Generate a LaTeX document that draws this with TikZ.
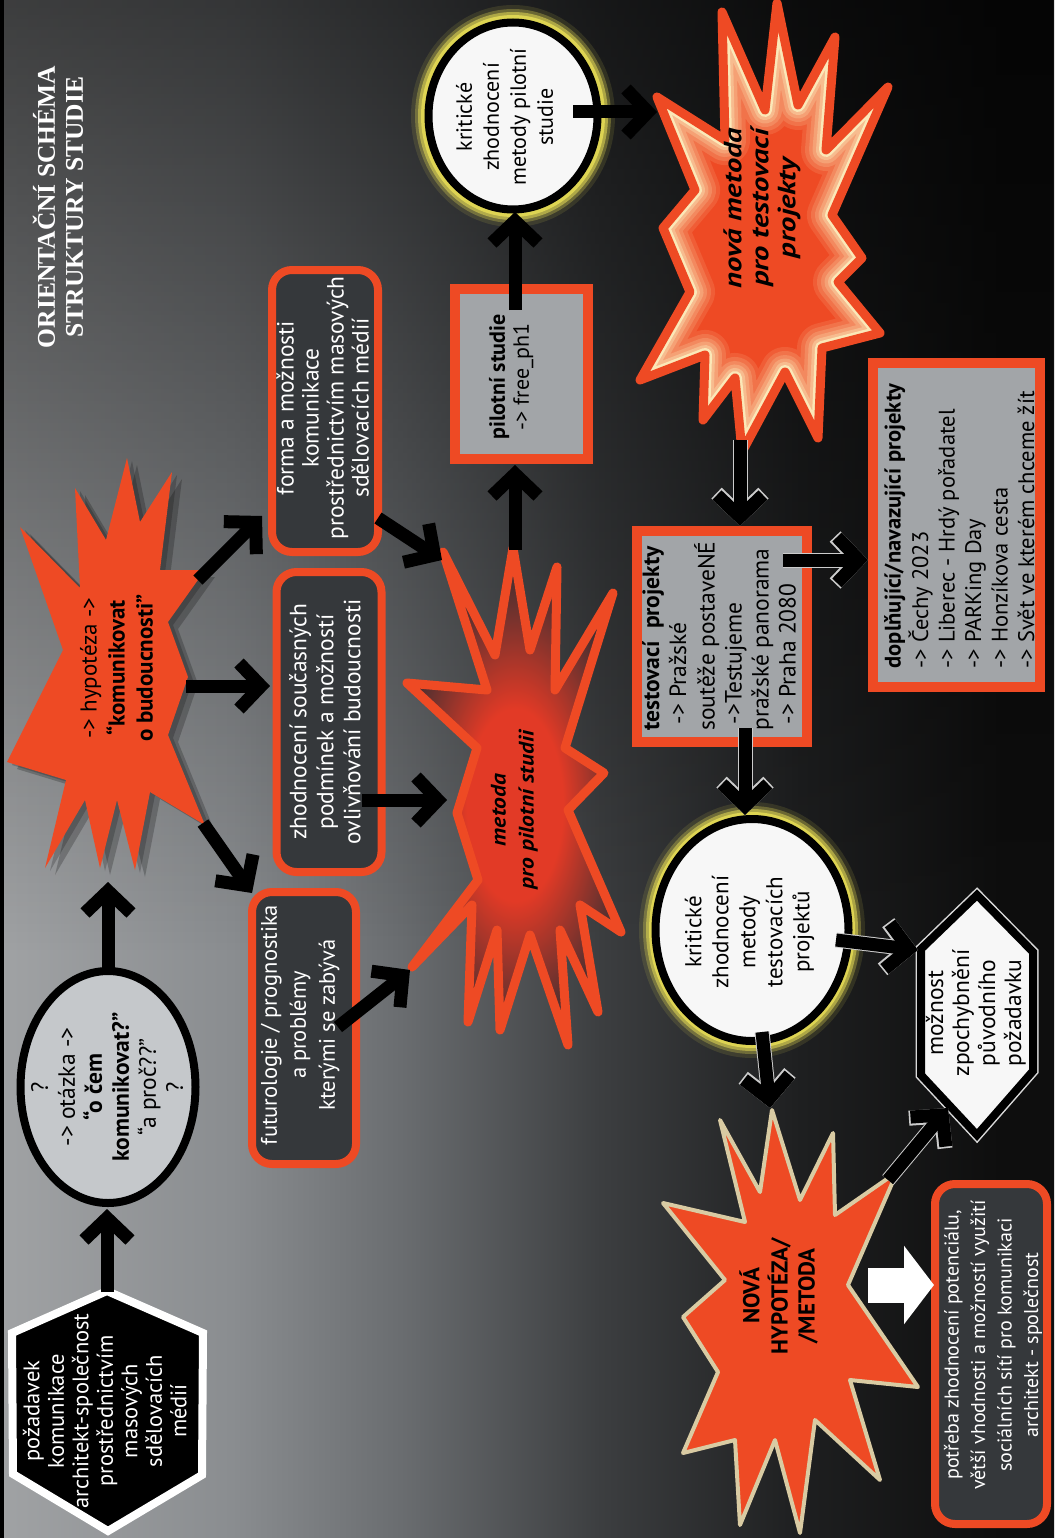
\documentclass[tikz,border=0pt]{standalone}
\usepackage{fontspec}
\setmainfont{PT Sans}
\newfontfamily\titlefont{Liberation Serif}
\usepackage{graphicx}
\usetikzlibrary{arrows.meta,shapes.geometric,fadings}
\definecolor{org}{HTML}{EE4A24}
\definecolor{boxd}{HTML}{35383B}
\definecolor{rgray}{HTML}{A2A5A8}
\definecolor{ellf}{HTML}{C5C8CB}
\definecolor{cream}{HTML}{FBE8B8}
\definecolor{mtdark}{HTML}{3A2E31}
\definecolor{mtred}{HTML}{E23A26}
\definecolor{glowy}{HTML}{E6DC55}
\definecolor{beige}{HTML}{D9CBA3}
\definecolor{bgA}{HTML}{A0A2A4}
\definecolor{bgB}{HTML}{8A8D90}
\definecolor{bgC}{HTML}{6A6D70}
\definecolor{bgD}{HTML}{3C3E40}
\definecolor{bgE}{HTML}{1E1F20}
\definecolor{bgF}{HTML}{0E0E0E}
\pgfdeclarehorizontalshading{bgsh}{100bp}{color(0bp)=(bgA); color(25bp)=(bgA); color(36bp)=(bgB); color(44bp)=(bgC); color(53.5bp)=(bgD); color(63bp)=(bgE); color(72.5bp)=(bgF); color(100bp)=(bgF)}
\pgfdeclareradialshading{glowsh}{\pgfpointorigin}{color(0bp)=(mtred); color(10bp)=(mtred); color(25bp)=(mtdark); color(50bp)=(mtdark)}
\newcommand\rtx[2][c]{\rotatebox{90}{\begin{tabular}{@{}#1@{}}#2\end{tabular}}}
\newcommand\rtxs[2]{\rotatebox{90}{\scalebox{#1}[1]{\begin{tabular}{@{}c@{}}#2\end{tabular}}}}
\def\hexA{(107,1291) -- (203,1333) -- (202,1475) -- (108,1531) -- (13,1474) -- (12,1333) -- cycle}
\def\hexB{(977,895) -- (1033,952) -- (1033,1071) -- (977,1135) -- (921,1075) -- (921,949) -- cycle}
\def\hypstar{(20,527) -- (80,588) -- (75,488) -- (106,540) -- (127,458) -- (140,522) -- (172,472) -- (160,570) -- (205,570) -- (168,622) -- (188,677) -- (168,735) -- (205,825) -- (150,792) -- (135,870) -- (117,800) -- (100,868) -- (85,800) -- (45,868) -- (66,780) -- (7,762) -- (63,650) -- cycle}
\def\metstar{(407,683) -- (487,690) -- (443,552) -- (495,655) -- (513,548) -- (530,650) -- (557,567) -- (555,690) -- (613,593) -- (565,748) -- (604,773) -- (568,810) -- (621,932) -- (580,905) -- (598,1012) -- (560,930) -- (568,1045) -- (530,935) -- (500,1030) -- (497,930) -- (468,1022) -- (472,905) -- (412,967) -- (478,880) -- (457,813) -- (477,748) -- cycle}
\def\nmstar{(777,3) -- (798,105) -- (835,37) -- (826,150) -- (888,87) -- (832,215) -- (862,258) -- (838,282) -- (880,333) -- (822,348) -- (818,438) -- (785,372) -- (742,452) -- (735,378) -- (703,420) -- (705,355) -- (640,380) -- (690,292) -- (663,228) -- (695,190) -- (657,97) -- (725,140) -- (722,12) -- (765,110) -- cycle}
\def\nhstar{(772,1110) -- (800,1200) -- (833,1133) -- (835,1215) -- (897,1172) -- (848,1285) -- (918,1387) -- (850,1380) -- (880,1480) -- (815,1420) -- (800,1533) -- (775,1440) -- (740,1525) -- (735,1440) -- (683,1453) -- (718,1372) -- (683,1317) -- (725,1280) -- (663,1203) -- (745,1222) -- (720,1120) -- (760,1192) -- cycle}
\begin{document}
\begin{tikzpicture}[x=1pt,y=-1pt,
  every node/.style={inner sep=0pt},
  rbox/.style={rectangle, rounded corners=20pt, draw=org, line width=8pt, fill=boxd},
  gbox/.style={rectangle, draw=org, line width=10pt, fill=rgray},
  wtxt/.style={text=white},
  arr/.style={draw=black, line width=13pt, -{Straight Barb[length=22pt,width=46pt,line width=13pt]}},
  arrw/.style={arr, preaction={draw=white!80!black, line width=15pt, -{Straight Barb[length=22.5pt,width=47pt,line width=15pt]}}}]
\useasboundingbox (0,0) rectangle (1054,1538);
% background
\shade[shading=bgsh, shading angle=0] (0,0) rectangle (1054,1538);
\fill[black, opacity=0.62, path fading=south] (0,0) rectangle (1054,950);
\fill[black] (0,0) rectangle (4,1538);

% title
\node[text=white, font=\titlefont\bfseries\fontsize{25.5}{28}\selectfont] (title) at (62,207) {\rtx{ORIENTAČNÍ SCHÉMA\\STRUKTURY STUDIE}};

% hexagon 1
\fill[black] \hexA;
\draw[white, line width=8pt] \hexA;
\node[wtxt, font=\fontsize{22.5}{24.5}\selectfont] (hex1) at (108,1411) {\rtx{požadavek\\komunikace\\architekt-společnost\\prostřednictvím\\masových\\sdělovacích\\médií}};

% ellipse question
\node[ellipse, draw=black, line width=8pt, fill=ellf, minimum width=175pt, minimum height=232pt] (q) at (108,1087) {};
\node[font=\fontsize{23.5}{27}\selectfont] (qt) at (110,1087) {\rtx{?\\-> otázka ->\\\textbf{“o čem}\\\textbf{komunikovat?”}\\“a proč??”\\?}};

% hypothesis star
\fill[black, opacity=0.22, shift={(10,7)}] \hypstar;
\fill[black, opacity=0.2, shift={(5,3)}] \hypstar;
\fill[org] \hypstar;
\node[font=\fontsize{23}{28}\selectfont] (hyp) at (119,668) {\rtx{-> hypotéza ->\\\textbf{“komunikovat}\\\textbf{o budoucnosti”}}};

% three rounded boxes
\node[rbox, minimum width=106pt, minimum height=282pt] (fm) at (325,411) {};
\node[wtxt, font=\fontsize{23.5}{25}\selectfont] (fmt) at (326,408) {\rtx{forma a možnosti\\komunikace\\prostřednictvím masových\\sdělovacích médií}};
\node[rbox, minimum width=105pt, minimum height=300pt] (zh) at (329,722) {};
\node[wtxt, font=\fontsize{23.5}{27}\selectfont] (zht) at (328,722) {\rtx{zhodnocení současných\\podmínek a možností\\ovlivňování budoucnosti}};
\node[rbox, minimum width=104pt, minimum height=272pt] (fu) at (304,1028) {};
\node[wtxt, font=\fontsize{22.5}{29}\selectfont] (fut) at (300,1025) {\rtx{futurologie / prognostika\\a problémy\\kterými se zabývá}};

% metoda star
\begin{scope}
  \clip \metstar;
  \fill[mtdark] \metstar;
  \shade[shading=glowsh] (515,805) ellipse (120 and 240);
\end{scope}
\draw[org, line width=9pt, line join=round] \metstar;
\node[font=\bfseries\itshape\fontsize{21}{28}\selectfont] (met) at (514,810) {\rtxs{1.12}{metoda\\pro pilotní studii}};

% pilot study
\node[gbox, minimum width=133pt, minimum height=170pt] (pil) at (521,374) {};
\node[font=\fontsize{22}{24}\selectfont] (pilt) at (512,377) {\rtx{\textbf{pilotní studie}\\-> free\_ph1}};

% circle 1
\foreach \r/\o in {13/0.12, 9/0.3, 6/0.55, 3/0.85}{
  \fill[glowy, opacity=\o] (513,116) ellipse ({89+\r} and {98+\r});
}
\node[ellipse, draw=black, line width=8pt, fill=white!97!black, minimum width=169pt, minimum height=187pt] (c1) at (513,116) {};
\node[font=\fontsize{22}{27}\selectfont] (c1t) at (507,117) {\rtx{kritické\\zhodnocení\\metody pilotní\\studie}};

% nova metoda star
\begin{scope}
  \clip \nmstar;
  \fill[org] \nmstar;
  \draw[line width=50pt, color=org!88!cream, line join=round] \nmstar;
  \draw[line width=42pt, color=org!74!cream, line join=round] \nmstar;
  \draw[line width=34pt, color=org!60!cream, line join=round] \nmstar;
  \draw[line width=27pt, color=org!45!cream, line join=round] \nmstar;
  \draw[line width=20pt, color=org!28!cream, line join=round] \nmstar;
  \draw[line width=14pt, color=cream, line join=round] \nmstar;
\end{scope}
\draw[org, line width=9pt, line join=round] \nmstar;
\node[font=\bfseries\itshape\fontsize{25}{27}\selectfont] (nmt) at (763,208) {\rtxs{1.22}{nová metoda\\pro testovací\\projekty}};

% testovaci projekty
\node[gbox, minimum width=170pt, minimum height=211pt] (tp) at (722,636) {};
\node[font=\fontsize{23.5}{27}\selectfont] (tpt) at (722,636) {\rtx[l]{\textbf{testovací\ \ projekty}\\\ -> Pražské\\soutěže postaveNÉ\\\ ->Testujeme\\pražské panorama\\\ -> Praha 2080}};

% doplnujici
\node[gbox, minimum width=167pt, minimum height=324pt] (dp) at (956,525) {};
\node[font=\fontsize{22.5}{26.5}\selectfont] (dpt) at (962,526) {\rtx[l]{\textbf{doplňující/navazující projekty}\\-> Čechy 2023\\-> Liberec - Hrdý pořadatel\\-> PARKing Day\\-> Honzíkova cesta\\-> Svět ve kterém chceme žít}};

% circle 2
\foreach \r/\o in {13/0.12, 9/0.3, 6/0.55, 3/0.85}{
  \fill[glowy, opacity=\o] (752,930) ellipse ({100+\r} and {115+\r});
}
\node[ellipse, draw=black, line width=8pt, fill=white!97!black, minimum width=193pt, minimum height=222pt] (c2) at (752,930) {};
\node[font=\fontsize{23}{27}\selectfont] (c2t) at (750,932) {\rtx{kritické\\zhodnocení\\metody\\testovacích\\projektů}};

% hexagon 2
\draw[white!85!black, line width=11pt] \hexB;
\fill[white!97!black] \hexB;
\draw[black, line width=8pt] \hexB;
\node[font=\fontsize{23.5}{26}\selectfont] (hx2) at (977,1013) {\rtx{možnost\\zpochybnění\\původního\\požadavku}};

% nova hypoteza star
\fill[org] \nhstar;
\draw[beige, line width=4pt, line join=round] \nhstar;
\node[font=\bfseries\fontsize{23}{27}\selectfont] (nh) at (781,1296) {\rtx{NOVÁ\\HYPOTÉZA/\\/METODA}};

% potreba box
\node[rbox, minimum width=112pt, minimum height=340pt] (pb) at (991,1354) {};
\node[wtxt, font=\fontsize{20}{26.5}\selectfont] (pbt) at (993,1345) {\rtx{potřeba zhodnocení potenciálu,\\větší vhodnosti a možností využití\\sociálních sítí pro komunikaci\\architekt - společnost}};

% arrow coordinates
\coordinate (a1s) at (107,1292); \coordinate (a1e) at (107,1209);
\coordinate (a2s) at (108,968);  \coordinate (a2e) at (108,882);
\coordinate (a3s) at (198,580);  \coordinate (a3e) at (262,516);
\coordinate (a4s) at (186,686);  \coordinate (a4e) at (270,686);
\coordinate (a5s) at (203,823);  \coordinate (a5e) at (252,893);
\coordinate (a6s) at (378,518);  \coordinate (a6e) at (442,560);
\coordinate (a7s) at (362,800);  \coordinate (a7e) at (447,800);
\coordinate (a8s) at (338,1027); \coordinate (a8e) at (410,970);
\coordinate (a9s) at (515,550);  \coordinate (a9e) at (515,465);
\coordinate (a10s) at (515,310); \coordinate (a10e) at (515,212);
\coordinate (a11s) at (573,112); \coordinate (a11e) at (657,112);
\coordinate (a12s) at (740,440); \coordinate (a12e) at (740,526);
\coordinate (a13s) at (783,560); \coordinate (a13e) at (868,560);
\coordinate (a14s) at (745,728); \coordinate (a14e) at (745,815);
\coordinate (a15s) at (836,940); \coordinate (a15e) at (918,950);
\coordinate (a16s) at (762,1032); \coordinate (a16e) at (770,1108);
\coordinate (a17s) at (888,1180); \coordinate (a17e) at (948,1108);
\coordinate (was) at (868,1285); \coordinate (wae) at (934,1285);

\draw[arr] (a1s) -- (a1e);
\draw[arr] (a2s) -- (a2e);
\draw[arr] (a3s) -- (a3e);
\draw[arr] (a4s) -- (a4e);
\draw[arr] (a5s) -- (a5e);
\draw[arr] (a6s) -- (a6e);
\draw[arr] (a7s) -- (a7e);
\draw[arr] (a8s) -- (a8e);
\draw[arr] (a9s) -- (a9e);
\draw[arr] (a10s) -- (a10e);
\draw[arr] (a11s) -- (a11e);
\draw[arrw] (a12s) -- (a12e);
\draw[arrw] (a13s) -- (a13e);
\draw[arrw] (a14s) -- (a14e);
\draw[arrw] (a15s) -- (a15e);
\draw[arrw] (a16s) -- (a16e);
\draw[arrw] (a17s) -- (a17e);
\draw[white, line width=35pt, -{Triangle[length=30pt,width=77pt]}] (was) -- (wae);
\end{tikzpicture}
\end{document}
